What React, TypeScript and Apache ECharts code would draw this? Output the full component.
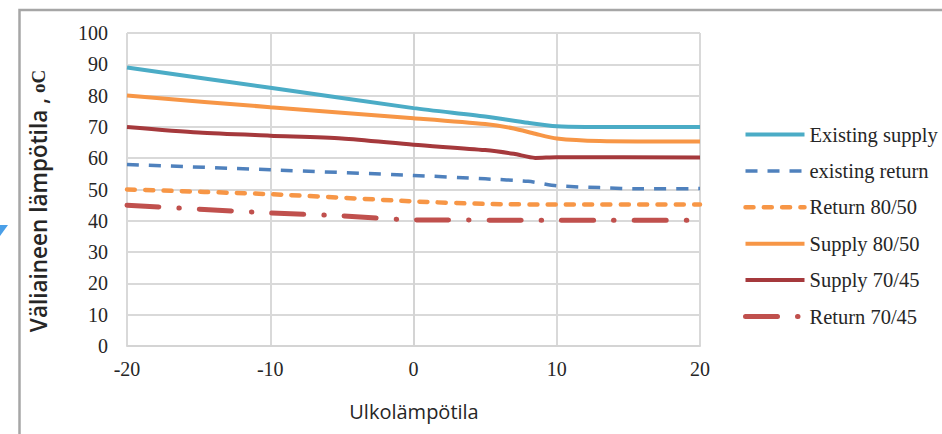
import React, { useEffect, useRef } from "react";
import * as echarts from "echarts";

const xTicks = [-20, -10, 0, 10, 20];
const seriesNames = [
  "Existing supply",
  "existing return",
  "Return 80/50",
  "Supply 80/50",
  "Supply 70/45",
  "Return 70/45",
];

const xExistingSupply = [-20, -10, 0, 5, 8, 10, 12, 20];
const yExistingSupply = [89, 82.5, 76, 73.3, 71.3, 70.2, 70, 70];

const xExistingReturn = [-20, -10, 0, 5, 8, 10, 13, 16, 20];
const yExistingReturn = [58, 56.3, 54.5, 53.4, 52.6, 51.2, 50.6, 50.2, 50.3];

const xReturn8050 = [-20, -10, 0, 5, 10, 20];
const yReturn8050 = [50, 48.5, 46.2, 45.4, 45.2, 45.2];

const xSupply8050 = [-20, -10, 0, 5, 7, 8.5, 10, 13, 20];
const ySupply8050 = [80, 76.3, 72.8, 70.9, 69.5, 67.8, 66.3, 65.5, 65.3];

const xSupply7045 = [-20, -15, -10, -5, 0, 5, 7, 8.5, 10, 20];
const ySupply7045 = [70, 68.2, 67.2, 66.3, 64.3, 62.6, 61.4, 60.1, 60.3, 60.2];

const xReturn7045 = [-20, -10, -5, 0, 10, 20];
const yReturn7045 = [45, 42.5, 41.6, 40.3, 40.2, 40.2];

const pairs = (xs: number[], ys: number[]) => xs.map((x, i) => [x, ys[i]]);

const colors = ["#4BACC6", "#4F81BD", "#F79646", "#F79646", "#A5393C", "#C0504D"];
const widths = [4, 3.5, 4.5, 4, 4, 5];
const dashes: any[] = ["solid", [12, 10], [8, 10.3], "solid", "solid", [32, 20, 0.5, 20]];
const caps = ["butt", "butt", "round", "butt", "butt", "round"];

export default function App() {
  const ref = useRef<HTMLDivElement>(null);
  useEffect(() => {
    if (!ref.current) return;
    const chart = echarts.init(ref.current, null, { renderer: "svg" });
    const datas = [
      pairs(xExistingSupply, yExistingSupply),
      pairs(xExistingReturn, yExistingReturn),
      pairs(xReturn8050, yReturn8050),
      pairs(xSupply8050, ySupply8050),
      pairs(xSupply7045, ySupply7045),
      pairs(xReturn7045, yReturn7045),
    ];
    const serif = "'Liberation Serif', 'Times New Roman', serif";
    const lineStyleOf = (i: number) => ({
      color: colors[i],
      width: widths[i],
      type: dashes[i],
      cap: caps[i],
    });
    chart.setOption({
      animation: false,
      backgroundColor: "#ffffff",
      grid: { left: 127, right: 242, top: 33, bottom: 88 },
      xAxis: {
        type: "value",
        min: xTicks[0],
        max: xTicks[xTicks.length - 1],
        interval: 10,
        axisLine: { show: true, lineStyle: { color: "#d4d4d4", width: 2 } },
        axisTick: { show: false },
        splitLine: { show: true, lineStyle: { color: "#d9d9d9", width: 2 } },
        axisLabel: { fontFamily: serif, fontSize: 20, color: "#262626", margin: 13 },
      },
      yAxis: {
        type: "value",
        min: 0,
        max: 100,
        interval: 10,
        axisLine: { show: true, lineStyle: { color: "#d4d4d4", width: 2 } },
        axisTick: { show: false },
        splitLine: { show: true, lineStyle: { color: "#d9d9d9", width: 2 } },
        axisLabel: { fontFamily: serif, fontSize: 20, color: "#262626", margin: 19 },
      },
      legend: {
        orient: "vertical",
        left: 743,
        top: 124,
        padding: 0,
        itemWidth: 59,
        itemHeight: 14,
        itemGap: 15.4,
        textStyle: { fontFamily: serif, fontSize: 20.5, color: "#262626", lineHeight: 20 },
        data: seriesNames.map((n, i) => ({
          name: n,
          lineStyle: lineStyleOf(i),
          itemStyle: { opacity: 0, borderWidth: 0 },
        })),
      },
      graphic: [
        {
          type: "rect",
          shape: { x: 19.5, y: 10, width: 1000, height: 600 },
          style: { fill: "none", stroke: "#a6a6a6", lineWidth: 2.5 },
          silent: true,
        },
        {
          type: "polygon",
          shape: { points: [[0, 225], [8, 225], [0, 236]] },
          style: { fill: "#4a9fe8" },
          silent: true,
        },
        {
          type: "text",
          x: 38,
          y: 201,
          rotation: Math.PI / 2,
          style: {
            text: "{a|Väliaineen lämpötila ,}{b| oC}",
            align: "center",
            verticalAlign: "middle",
            rich: {
              a: { fontFamily: "'Open Sans', sans-serif", fontSize: 22.5, fontWeight: 600, fill: "#262626" },
              b: { fontFamily: serif, fontSize: 19, fontWeight: "bold", fill: "#262626" },
            },
          },
        },
        {
          type: "text",
          x: 414,
          y: 411,
          style: {
            text: "Ulkolämpötila",
            align: "center",
            verticalAlign: "middle",
            fontFamily: "'Open Sans', sans-serif",
            fontSize: 20,
            fill: "#262626",
          },
        },
      ],
      series: seriesNames.map((n, i) => ({
        name: n,
        type: "line",
        data: datas[i],
        symbol: "none",
        smooth: 0.25,
        lineStyle: lineStyleOf(i),
        itemStyle: { color: colors[i] },
        z: 10 - i,
      })),
    });
    return () => chart.dispose();
  }, []);
  return (
    <div
      ref={ref}
      style={{ position: "absolute", left: 0, top: 0, width: 942, height: 434 }}
    />
  );
}
